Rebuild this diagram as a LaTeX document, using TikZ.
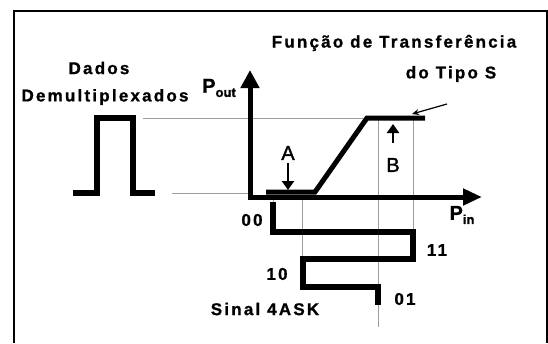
\documentclass[tikz,border=0pt]{standalone}
\usepackage{fontspec}
\setmainfont{Liberation Sans}
\usetikzlibrary{arrows.meta}

\tikzset{
  txt/.style={inner sep=0pt,font=\fontsize{17}{18}\selectfont\bfseries\addfontfeature{LetterSpace=13,FakeBold=1}},
  ptxt/.style={inner sep=0pt,font=\fontsize{20}{20}\selectfont\bfseries\addfontfeature{FakeBold=1}},
  abtxt/.style={inner sep=0pt,font=\fontsize{20}{20}\selectfont\addfontfeature{FakeBold=1.5}},
  thickline/.style={line width=5.5pt,line join=miter},
  guide/.style={gray!75,line width=0.8pt},
  smallarrow/.style={line width=2.5pt,-{Triangle[length=9pt,width=12pt]}}
}

\begin{document}
\begin{tikzpicture}[x=1pt,y=-1pt]
\useasboundingbox (0,0) rectangle (548,343);
% frame
\draw[line width=2pt] (14,343) -- (14,11) -- (547,11) -- (547,343);

% key points
\coordinate (o) at (250,197);
\coordinate (ytip) at (250,70);
\coordinate (xtip) at (482,197);
\coordinate (low) at (266,192);
\coordinate (knee) at (315,192);
\coordinate (sat) at (367,118);
\coordinate (satend) at (425,118);
\coordinate (ptr) at (412,114);

% guide lines
\draw[guide] (143,118) -- (sat);
\draw[guide] (172,193) -- (250,193);
\draw[guide] (378,118) -- (378,327);
\draw[guide] (413,118) -- (413,232);
\draw[guide] (302,197) -- (302,259);
\draw[guide] (273,197) -- (273,204);

% demultiplexed pulse
\draw[thickline] (73,193) -- (97,193) -- (97,118) -- (133,118) -- (133,193) -- (155,193);

% axes
\draw[line width=5pt,line join=miter,{Triangle[length=18pt,width=18pt]}-{Triangle[length=19pt,width=16pt]}] (ytip) -- (o) -- (xtip);

% S-type transfer function
\draw[line width=5pt,line join=miter] (low) -- (knee) -- (sat) -- (satend);

% 4ASK signal
\draw[thickline] (273,202) -- (273,232) -- (413,232) -- (413,259) -- (303,259) -- (303,287) -- (378,287) -- (378,305);

% A and B
\node[abtxt] (a) at (288,153) {A};
\draw[smallarrow] (288,163) -- (288,190);
\node[abtxt] (b) at (393,165) {B};
\draw[smallarrow] (393,143) -- (393,124);

% labels
\node[txt] (dados) at (99,68) {Dados};
\node[txt] (demux) at (105,97) {Demultiplexados};
\node[txt] (funcao) at (394,43) {Função de Transferência};
\node[txt] (tipo) at (451,74) {do Tipo S};
\node[ptxt] (pout) at (219,88) {P\raisebox{-0.4ex}{\fontsize{13}{13}\selectfont\bfseries\addfontfeature{FakeBold=1}out}};
\node[ptxt] (pin) at (462,215) {P\raisebox{-0.4ex}{\fontsize{13}{13}\selectfont\bfseries\addfontfeature{FakeBold=1}in}};
\draw[line width=1.2pt,-{Stealth[length=7pt,width=6pt]}] (447,104) -- (ptr);

\node[txt] (l00) at (252,220) {00};
\node[txt] (l11) at (437,250) {11};
\node[txt] (l10) at (277,274) {10};
\node[txt] (l01) at (405,299) {01};
\node[txt] (sinal) at (265,309) {Sinal 4ASK};
\end{tikzpicture}
\end{document}
